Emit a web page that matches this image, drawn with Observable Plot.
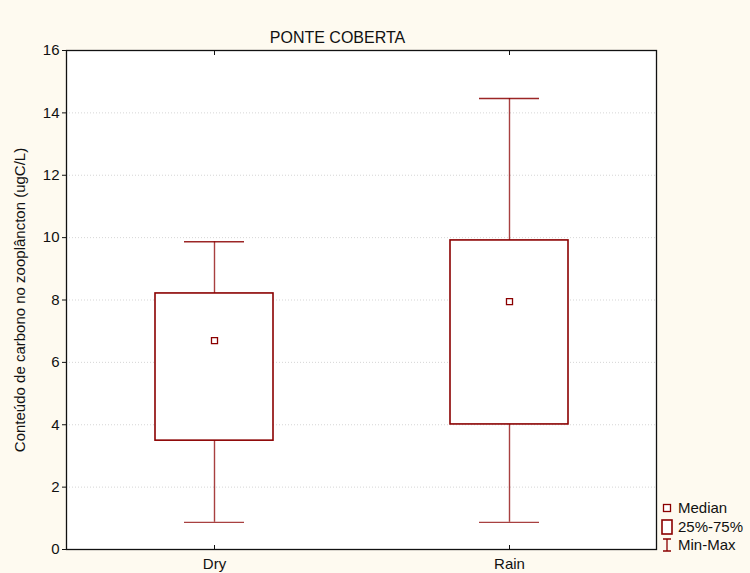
<!DOCTYPE html>
<html><head><meta charset="utf-8">
<script src="https://cdn.jsdelivr.net/npm/d3@7"></script>
<script src="https://cdn.jsdelivr.net/npm/@observablehq/plot@0.6"></script>
<style>
body{margin:0;background:#fefaf0;font-family:"Liberation Sans",Arial,sans-serif;}
#wrap{position:relative;width:750px;height:573px;overflow:hidden;}
#legend{position:absolute;left:661px;top:499px;font-size:15px;color:#111;line-height:18.5px;}
#legend div{display:flex;align-items:center;height:18.5px;}
#legend svg{margin-right:5px;}
</style></head>
<body><div id="wrap"><div id="legend"></div></div>
<script>
const categories = ["Dry", "Rain"];
const minVals = [0.87, 0.87];
const q1Vals = [3.49, 4.01];
const medianVals = [6.70, 7.95];
const q3Vals = [8.21, 9.91];
const maxVals = [9.87, 14.46];
const yTicks = [0, 2, 4, 6, 8, 10, 12, 14, 16];

const data = categories.map((c, i) => ({cat: c, min: minVals[i], q1: q1Vals[i], med: medianVals[i], q3: q3Vals[i], max: maxVals[i]}));
const red = "#8b0000";

const chart = Plot.plot({
  width: 750, height: 573,
  marginLeft: 66, marginRight: 94, marginTop: 50, marginBottom: 24,
  style: {background: "#fefaf0", fontFamily: "Liberation Sans, Arial, sans-serif", fontSize: "15px", color: "#111"},
  x: {type: "band", domain: categories, paddingInner: 0.6, paddingOuter: 0.3, label: null},
  y: {domain: [0, 16], ticks: yTicks, label: "Conteúdo de carbono no zooplâncton (ugC/L)"},
  marks: [
    Plot.frame({fill: "white", stroke: "none"}),
    Plot.gridY(yTicks.filter(t => t > 0 && t < 16), {stroke: "#bbb", strokeOpacity: 1, strokeDasharray: "1,2", strokeWidth: 0.6}),
    Plot.ruleX(data, {x: "cat", y1: "min", y2: "max", stroke: red, strokeOpacity: 0.75, strokeWidth: 1.4}),
    Plot.tickY(data, {x: "cat", y: "min", stroke: red, strokeOpacity: 0.75, strokeWidth: 1.4, insetLeft: 29, insetRight: 29}),
    Plot.tickY(data, {x: "cat", y: "max", stroke: red, strokeOpacity: 0.85, strokeWidth: 1.4, insetLeft: 29, insetRight: 29}),
    Plot.barY(data, {x: "cat", y1: "q1", y2: "q3", fill: "white", stroke: red, strokeWidth: 1.6}),
    Plot.dot(data, {x: "cat", y: "med", symbol: "square", r: 3.4, fill: "white", stroke: red, strokeWidth: 1.3}),
    Plot.frame({stroke: "#111", strokeWidth: 1.3}),
    Plot.axisY({ticks: yTicks, tickSize: 4, tickPadding: 3, fontSize: 15, labelAnchor: "center", labelArrow: "none", labelOffset: 52, label: "Conteúdo de carbono no zooplâncton (ugC/L)"}),
    Plot.axisX({anchor: "bottom", tickSize: -4, tickPadding: 13, fontSize: 15, label: null}),
    Plot.axisX({anchor: "top", tickSize: -4, text: null, label: null}),
    Plot.text(["PONTE COBERTA"], {frameAnchor: "top", dy: -19, dx: -24, fontSize: 16, fill: "#111"})
  ]
});
document.getElementById("wrap").prepend(chart);

const legendItems = [
  {label: "Median", icon: `<svg width="12" height="12"><rect x="2.5" y="2.5" width="7" height="7" fill="white" stroke="${red}" stroke-width="1.3"/></svg>`},
  {label: "25%-75%", icon: `<svg width="12" height="16"><rect x="1" y="1" width="10" height="14" fill="white" stroke="${red}" stroke-width="1.6"/></svg>`},
  {label: "Min-Max", icon: `<svg width="12" height="16"><path d="M2,2H10M6,2V14M2,14H10" stroke="${red}" stroke-width="1.3" fill="none"/></svg>`}
];
document.getElementById("legend").innerHTML = legendItems.map(d => `<div>${d.icon}<span>${d.label}</span></div>`).join("");
</script></body></html>
